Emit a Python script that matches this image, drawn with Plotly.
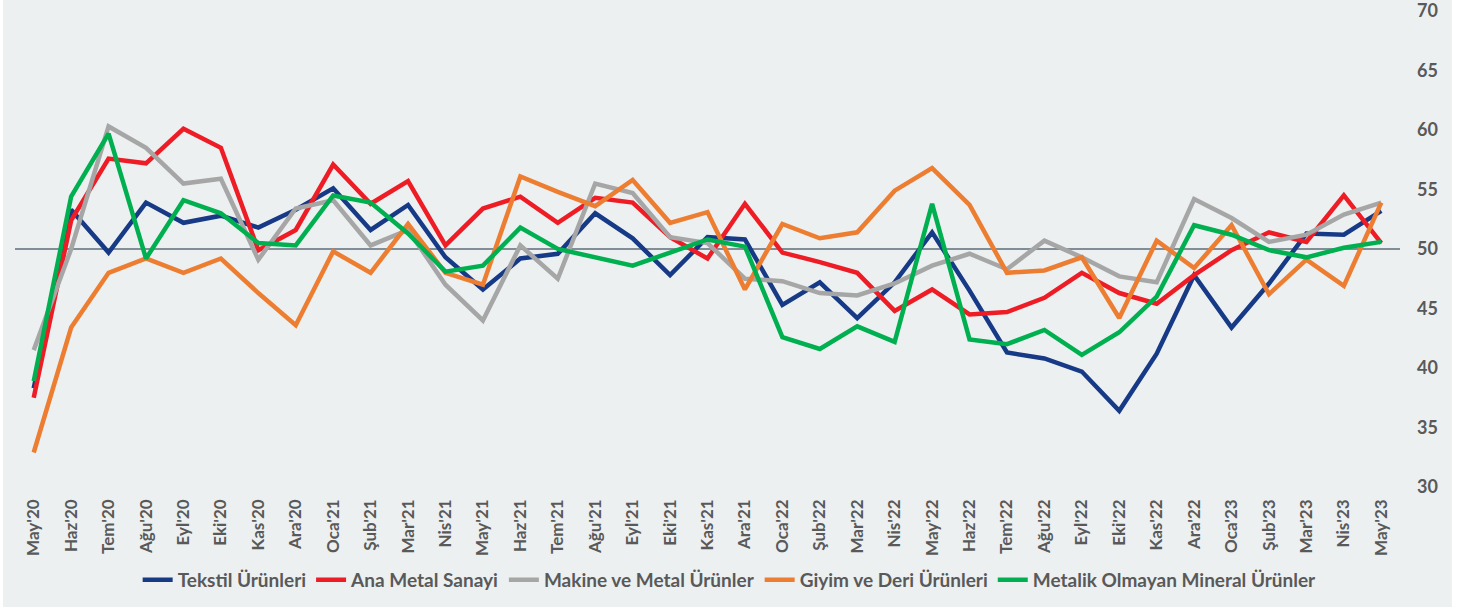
import plotly.graph_objects as go

months = ["May'20","Haz'20","Tem'20","Ağu'20","Eyl'20","Eki'20","Kas'20","Ara'20",
          "Oca'21","Şub'21","Mar'21","Nis'21","May'21","Haz'21","Tem'21","Ağu'21","Eyl'21","Eki'21","Kas'21","Ara'21",
          "Oca'22","Şub'22","Mar'22","Nis'22","May'22","Haz'22","Tem'22","Ağu'22","Eyl'22","Eki'22","Kas'22","Ara'22",
          "Oca'23","Şub'23","Mar'23","Nis'23","May'23"]

tekstil = [38.3,53.3,49.7,53.9,52.2,52.8,51.8,53.3,55.1,51.6,53.7,49.3,46.6,49.2,49.6,53.0,50.9,47.8,51.0,50.8,
           45.3,47.2,44.2,47.2,51.4,46.5,41.3,40.8,39.7,36.4,41.2,47.8,43.4,47.1,51.3,51.2,53.2]
ana_metal = [37.5,52.4,57.6,57.2,60.1,58.5,49.9,51.6,57.1,53.8,55.7,50.3,53.4,54.4,52.2,54.3,53.9,51.0,49.2,53.8,
             49.7,48.9,48.0,44.8,46.6,44.5,44.7,45.9,48.0,46.3,45.4,47.8,49.9,51.4,50.6,54.5,50.5]
makine = [41.5,50.0,60.3,58.5,55.5,55.9,49.1,53.4,54.1,50.3,51.6,47.0,44.0,50.3,47.5,55.5,54.7,51.0,50.5,47.5,
          47.3,46.3,46.1,47.1,48.6,49.6,48.3,50.7,49.3,47.7,47.2,54.2,52.6,50.6,51.2,52.9,53.9]
giyim = [32.9,43.4,48.0,49.2,48.0,49.2,46.3,43.6,49.8,48.0,52.1,48.0,47.0,56.1,54.8,53.6,55.8,52.2,53.1,46.6,
         52.1,50.9,51.4,54.9,56.8,53.7,48.0,48.2,49.3,44.2,50.7,48.4,52.0,46.2,49.1,46.9,53.9]
metalik = [38.9,54.4,59.7,49.2,54.1,53.0,50.5,50.3,54.5,53.9,51.3,48.1,48.6,51.8,50.0,49.3,48.6,49.7,50.8,50.2,
           42.6,41.6,43.5,42.2,53.8,42.4,42.0,43.2,41.1,43.0,46.0,52.0,51.2,49.9,49.3,50.1,50.6]

series = [
    ("Tekstil Ürünleri", tekstil, "#173A86"),
    ("Ana Metal Sanayi", ana_metal, "#EE1C25"),
    ("Makine ve Metal Ürünler", makine, "#A6A6A6"),
    ("Giyim ve Deri Ürünleri", giyim, "#ED7D31"),
    ("Metalik Olmayan Mineral Ürünler", metalik, "#00B050"),
]

bg = "#ECF0F1"
txt = "#595959"
fnt = "Lato, Open Sans, sans-serif"

fig = go.Figure()
for name, vals, col in series:
    fig.add_trace(go.Scatter(x=months, y=vals, name=name, mode="lines",
                             line=dict(color=col, width=4.5)))

fig.add_shape(type="rect", xref="paper", yref="paper", x0=-0.0087, x1=1.0375, y0=-0.3, y1=1.05,
              fillcolor=bg, line=dict(width=0), layer="below")
fig.add_shape(type="line", xref="paper", yref="y", x0=0, x1=1, y0=50, y1=50,
              line=dict(color="#5E6D78", width=1.5), layer="below")

fig.update_layout(
    width=1472, height=607,
    margin=dict(l=15, r=72, t=11, b=120, autoexpand=False),
    paper_bgcolor="white", plot_bgcolor=bg,
    showlegend=True,
    legend=dict(orientation="h", x=0.516, xanchor="center", y=-0.195, yanchor="middle",
                font=dict(family=fnt, size=19, color=txt, weight="bold"),
                bgcolor="rgba(0,0,0,0)", itemwidth=30, tracegroupgap=0),
    xaxis=dict(type="category", range=[-0.5, len(months) - 0.5], tickangle=-90,
               showgrid=False, zeroline=False, showline=False, automargin=False,
               tickfont=dict(family=fnt, size=17, color=txt, weight="bold"),
               ticks="", ticklabelstandoff=8, ticklabeloverflow="allow"),
    yaxis=dict(range=[30, 70], dtick=5, side="right", showgrid=False, zeroline=False, showline=False,
               automargin=False,
               tickfont=dict(family=fnt, size=18, color=txt, weight="bold"),
               ticks="", ticklabelstandoff=16, ticklabeloverflow="allow"),
)

fig.write_html("out.html", config={"displayModeBar": False},
               post_script="document.body.style.margin='0';")
